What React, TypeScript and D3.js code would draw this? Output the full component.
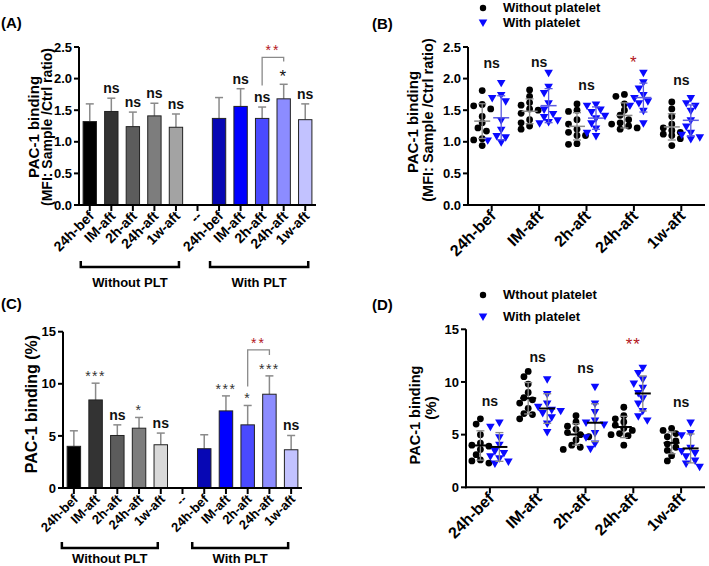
import React from 'react';
import * as d3 from 'd3';

const FONT = '"Liberation Sans", Arial, Helvetica, sans-serif';

// ---------- Bar panels (A, C) ----------
const barCategories = ['24h-bef', 'IM-aft', '2h-aft', '24h-aft', '1w-aft', '--', '24h-bef', 'IM-aft', '2h-aft', '24h-aft', '1w-aft'];

const aMeans = [1.32, 1.48, 1.24, 1.41, 1.23, null, 1.37, 1.56, 1.37, 1.68, 1.35];
const aErrTop = [1.60, 1.69, 1.47, 1.61, 1.44, null, 1.70, 1.84, 1.55, 1.91, 1.60];
const aSig = ['', 'ns', 'ns', 'ns', 'ns', '', '', 'ns', 'ns', '*', 'ns'];
const aTicks = [0, 0.5, 1, 1.5, 2, 2.5];
const aBracket = { from: 8, to: 9, level: 2.335, leftEnd: 1.89, rightEnd: 2.27, label: '**' };

const cMeans = [4.0, 8.45, 5.04, 5.74, 4.15, null, 3.77, 7.40, 6.06, 9.0, 3.67];
const cErrTop = [5.49, 10.06, 6.06, 6.77, 5.27, null, 5.11, 8.84, 7.92, 10.76, 5.04];
const cSig = ['', '***', 'ns', '*', 'ns', '', '', '***', '*', '***', 'ns'];
const cTicks = [0, 5, 10, 15];
const cBracket = { from: 8, to: 9, level: 13.25, leftEnd: 9.73, rightEnd: 12.77, label: '**' };

const groups = [
  { label: 'Without PLT', first: 0, last: 4 },
  { label: 'With PLT', first: 6, last: 10 },
];

// ---------- Scatter panels (B, D) ----------
const scatterCategories = ['24h-bef', 'IM-aft', '2h-aft', '24h-aft', '1w-aft'];

const bWithout = [
  [1.81, 1.59, 1.57, 1.52, 1.40, 1.30, 1.22, 1.17, 1.05, 1.03, 0.94],
  [1.82, 1.72, 1.62, 1.58, 1.52, 1.50, 1.45, 1.35, 1.30, 1.25, 1.20],
  [1.60, 1.50, 1.48, 1.35, 1.28, 1.20, 1.15, 1.10, 1.10, 0.97, 0.96],
  [1.75, 1.72, 1.60, 1.50, 1.42, 1.35, 1.30, 1.28, 1.25, 1.22, 1.20],
  [1.63, 1.52, 1.40, 1.28, 1.22, 1.18, 1.15, 1.12, 1.10, 1.05, 0.94],
];
const bWith = [
  [1.94, 1.75, 1.70, 1.65, 1.35, 1.20, 1.10, 1.08, 1.03, 1.00],
  [2.10, 1.88, 1.78, 1.62, 1.52, 1.45, 1.40, 1.35, 1.32, 1.30],
  [1.60, 1.58, 1.52, 1.48, 1.42, 1.38, 1.30, 1.22, 1.15, 1.10],
  [2.10, 1.95, 1.85, 1.75, 1.70, 1.65, 1.62, 1.58, 1.50, 1.30],
  [1.70, 1.62, 1.58, 1.50, 1.35, 1.25, 1.15, 1.12, 1.08, 1.05],
];
const bSig = ['ns', 'ns', 'ns', '*', 'ns'];
const bSigY = [2.16, 2.18, 1.82, 2.16, 1.90];

const dWithout = [
  [6.5, 6.0, 5.0, 4.2, 4.0, 3.9, 3.6, 3.1, 2.6, 2.5, 2.3],
  [11.0, 10.5, 9.8, 9.0, 8.5, 8.3, 8.0, 7.5, 7.0, 6.9, 6.5],
  [6.8, 6.2, 5.8, 5.5, 5.2, 5.0, 4.8, 4.5, 4.0, 3.8, 3.6],
  [7.6, 6.8, 6.5, 6.2, 5.9, 5.6, 5.4, 5.1, 5.0, 4.9, 4.0],
  [5.6, 5.4, 5.1, 4.8, 4.4, 4.1, 3.8, 3.5, 3.0, 2.5],
];
const dWith = [
  [6.2, 5.8, 4.8, 4.1, 3.5, 3.3, 3.0, 2.8, 2.5, 2.3],
  [10.3, 8.9, 8.0, 7.7, 7.4, 7.3, 7.1, 6.7, 6.1, 5.3],
  [9.6, 8.0, 7.2, 6.4, 6.2, 6.0, 5.2, 4.8, 4.2, 3.7],
  [11.4, 10.9, 10.3, 9.9, 9.5, 9.0, 8.5, 8.0, 7.3, 6.8, 6.4],
  [6.2, 5.2, 5.0, 3.8, 3.5, 3.3, 3.0, 2.6, 2.3, 2.0],
];
const dSig = ['ns', 'ns', 'ns', '**', 'ns'];
const dSigY = [7.75, 11.93, 10.85, 13.04, 7.63];

// ---------- styles ----------
const colorsA = ['#000000', '#333333', '#5c5c5c', '#7d7d7d', '#a3a3a3', 'none', '#0707b4', '#0000ff', '#4a4aff', '#8c8cff', '#c2c2ff'];
const colorsC = ['#000000', '#333333', '#5c5c5c', '#7d7d7d', '#d9d9d9', 'none', '#0707b4', '#0000ff', '#4a4aff', '#8c8cff', '#c2c2ff'];
const RED = '#b3161c';
const GREY = '#8a8a8a';

function YAxis({ y, ticks, x0, fmt, fs }) {
  const [r0, r1] = y.range();
  return (
    <g>
      <line x1={x0} x2={x0} y1={r0 + 1} y2={r1} stroke="#000" strokeWidth={2} />
      {ticks.map((t) => (
        <g key={t}>
          <line x1={x0 - 5} x2={x0} y1={y(t)} y2={y(t)} stroke="#000" strokeWidth={2} />
          <text x={x0 - 7} y={y(t)} dy="0.36em" textAnchor="end" fontSize={fs} fontWeight="bold">{fmt(t)}</text>
        </g>
      ))}
    </g>
  );
}

function XAxis({ x, cats, y0, x0, x1, fs }) {
  return (
    <g>
      <line x1={x0 - 1} x2={x1} y1={y0} y2={y0} stroke="#000" strokeWidth={2} />
      {cats.map((c, i) => (
        <g key={i}>
          <line x1={x(i)} x2={x(i)} y1={y0} y2={y0 + 6} stroke="#000" strokeWidth={2} />
          <text transform={`translate(${x(i) + 5},${y0 + 12}) rotate(-45)`} textAnchor="end" fontSize={fs} fontWeight="bold">{c}</text>
        </g>
      ))}
    </g>
  );
}

function YTitle({ lines, xs, cys, fss }) {
  return (
    <g>
      {lines.map((l, i) => (
        <text key={i} transform={`translate(${xs[i]},${cys[i]}) rotate(-90)`} textAnchor="middle" fontSize={fss[i]} fontWeight="bold">{l}</text>
      ))}
    </g>
  );
}

function BarPanel(p) {
  const x = d3.scalePoint().domain(d3.range(barCategories.length)).range([p.x0, p.x1]).padding(0.5);
  const y = d3.scaleLinear().domain([0, p.max]).range([p.y0, p.y1]);
  const bw = x.step() * 0.62;
  const br = p.bracket;
  return (
    <g>
      {p.means.map((m, i) =>
        m == null ? null : (
          <g key={i}>
            <line x1={x(i)} x2={x(i)} y1={y(m)} y2={y(p.errTop[i])} stroke={GREY} strokeWidth={1.5} />
            <line x1={x(i) - 4} x2={x(i) + 4} y1={y(p.errTop[i])} y2={y(p.errTop[i])} stroke={GREY} strokeWidth={1.5} />
            <rect x={x(i) - bw / 2} y={y(m)} width={bw} height={y(0) - y(m)} fill={p.colors[i]} stroke="#222" strokeWidth={1} />
          </g>
        )
      )}
      {p.sig.map((s, i) => {
        if (!s) return null;
        const star = s.includes('*');
        return (
          <text key={i} x={x(i)} y={y(p.errTop[i]) + (star ? p.starDy : -5)} textAnchor="middle"
            fontSize={star ? p.starFs : p.nsFs} fontWeight={star ? 'normal' : 'bold'}
            fill={star ? p.starColor : '#111'} letterSpacing={star ? 1.5 : 0}>{s}</text>
        );
      })}
      <path d={`M${x(br.from)},${y(br.leftEnd)}V${y(br.level)}H${x(br.to)}V${y(br.rightEnd)}`} fill="none" stroke={GREY} strokeWidth={1.3} />
      <text x={(x(br.from) + x(br.to)) / 2} y={y(br.level) - 2} textAnchor="middle" fontSize={14} fill={RED} letterSpacing={2}>{br.label}</text>
      <YAxis y={y} ticks={p.ticks} x0={p.x0} fmt={p.fmt} fs={13} />
      <XAxis x={x} cats={barCategories} y0={p.y0} x0={p.x0} x1={p.x1} fs={p.xFs} />
      {groups.map((g) => {
        const a = x(g.first) + p.grpOff[0];
        const b = x(g.last) + p.grpOff[1];
        return (
          <g key={g.label}>
            <path d={`M${a},${p.grpY - 6}V${p.grpY}H${b}V${p.grpY - 6}`} fill="none" stroke="#000" strokeWidth={2.5} />
            <text x={(a + b) / 2} y={p.grpLabelY} textAnchor="middle" fontSize={13} fontWeight="bold">{g.label}</text>
          </g>
        );
      })}
    </g>
  );
}

function swarm(values, y, cx, r) {
  const pts = values.map((v) => ({ v, y: y(v) })).sort((a, b) => a.y - b.y);
  const placed = [];
  const offs = [0, -1, 1, -2, 2, -3, 3];
  for (const p of pts) {
    let done = false;
    for (const k of offs) {
      const px = cx + k * r * 1.25;
      if (placed.every((q) => (q.x - px) ** 2 + (q.y - p.y) ** 2 >= (2 * r * 0.92) ** 2)) {
        placed.push({ x: px, y: p.y });
        done = true;
        break;
      }
    }
    if (!done) placed.push({ x: cx, y: p.y });
  }
  return placed;
}

const triPath = d3.symbol(d3.symbolTriangle, 32)();

function ScatterPanel(p) {
  const x = d3.scalePoint().domain(d3.range(scatterCategories.length)).range([p.x0, p.x1]).padding(0.5);
  const y = d3.scaleLinear().domain([0, p.max]).range([p.y0, p.y1]);
  const off = 9.5;
  const stats = (vals, cx, meanColor, sdColor) => {
    const m = d3.mean(vals);
    const sd = d3.deviation(vals);
    return (
      <g>
        <line x1={cx} x2={cx} y1={y(m - sd)} y2={y(m + sd)} stroke={sdColor} strokeWidth={1.3} />
        <line x1={cx - 4} x2={cx + 4} y1={y(m - sd)} y2={y(m - sd)} stroke={sdColor} strokeWidth={1.3} />
        <line x1={cx - 4} x2={cx + 4} y1={y(m + sd)} y2={y(m + sd)} stroke={sdColor} strokeWidth={1.3} />
        <line x1={cx - 8} x2={cx + 8} y1={y(m)} y2={y(m)} stroke={meanColor} strokeWidth={p.meanW} />
      </g>
    );
  };
  return (
    <g>
      {scatterCategories.map((c, i) => {
        const cxA = x(i) - off;
        const cxB = x(i) + off;
        return (
          <g key={i}>
            {swarm(p.without[i], y, cxA, 3.4).map((pt, j) => (
              <circle key={j} cx={pt.x} cy={pt.y} r={3.4} fill="#000" />
            ))}
            {swarm(p.withP[i], y, cxB, 3.6).map((pt, j) => (
              <path key={j} d={triPath} transform={`translate(${pt.x},${pt.y}) rotate(180)`} fill="#0a0aff" />
            ))}
            {stats(p.without[i], cxA, p.meanColA, GREY)}
            {stats(p.withP[i], cxB, p.meanColB, p.sdColB)}
            {(() => {
              const s = p.sig[i];
              const star = s.includes('*');
              return (
                <text x={x(i)} y={y(p.sigY[i])} textAnchor="middle" fontSize={star ? 17 : 14}
                  fontWeight={star ? 'normal' : 'bold'} fill={star ? RED : '#111'} letterSpacing={star ? 1 : 0}>{s}</text>
              );
            })()}
          </g>
        );
      })}
      <YAxis y={y} ticks={p.ticks} x0={p.x0} fmt={p.fmt} fs={13} />
      <XAxis x={x} cats={scatterCategories} y0={p.y0} x0={p.x0} x1={p.x1} fs={p.xFs} />
      <circle cx={483} cy={p.legY[0] - 4} r={3.2} fill="#000" />
      <text x={503} y={p.legY[0]} fontSize={13} fontWeight="bold">{p.legend[0]}</text>
      <path d={triPath} transform={`translate(483,${p.legY[1] - 5}) rotate(180)`} fill="#0a0aff" />
      <text x={503} y={p.legY[1]} fontSize={13} fontWeight="bold">{p.legend[1]}</text>
    </g>
  );
}

export default function App() {
  const f1 = d3.format('.1f');
  const f0 = d3.format('d');
  return (
    <svg width={709} height={566} style={{ position: 'absolute', left: 0, top: 0, background: '#fff' }}
      fontFamily={FONT}>
      <rect width={709} height={566} fill="#fff" />
      {/* Panel A */}
      <text x={1} y={28} fontSize={15} fontWeight="bold">(A)</text>
      <YTitle lines={['PAC-1 binding', '(MFI: Sample /Ctrl ratio)']} xs={[39, 52]} cys={[127, 127]} fss={[15, 14]} />
      <BarPanel means={aMeans} errTop={aErrTop} sig={aSig} ticks={aTicks} max={2.5} fmt={f1}
        x0={79} x1={316} y0={205} y1={47} colors={colorsA} bracket={aBracket}
        starFs={17} starDy={-2} starColor="#111" nsFs={14} xFs={14}
        grpOff={[-9, 3]} grpY={267} grpLabelY={287} />

      {/* Panel B */}
      <text x={372} y={29} fontSize={15} fontWeight="bold">(B)</text>
      <YTitle lines={['PAC-1 binding', '(MFI: Sample /Ctrl ratio)']} xs={[418, 433]} cys={[122, 120]} fss={[15, 14.5]} />
      <ScatterPanel without={bWithout} withP={bWith} sig={bSig} sigY={bSigY} ticks={aTicks} max={2.5} fmt={f1}
        x0={468} x1={705} y0={205} y1={47} xFs={16} meanW={1.5} meanColA={GREY} meanColB="#5a5ae0" sdColB="#5a5ae0"
        legend={['Without platelet', 'With platelet']} legY={[12, 27]} />

      {/* Panel C */}
      <text x={1} y={309} fontSize={15} fontWeight="bold">(C)</text>
      <YTitle lines={['PAC-1 binding (%)']} xs={[37]} cys={[404]} fss={[16]} />
      <BarPanel means={cMeans} errTop={cErrTop} sig={cSig} ticks={cTicks} max={15} fmt={f0}
        x0={63} x1={302} y0={488} y1={331.7} colors={colorsC} bracket={cBracket}
        starFs={14} starDy={-2} starColor="#333" nsFs={14} xFs={13}
        grpOff={[-12, -3]} grpY={548} grpLabelY={563} />

      {/* Panel D */}
      <text x={372} y={310} fontSize={15} fontWeight="bold">(D)</text>
      <YTitle lines={['PAC-1 binding', '(%)']} xs={[420, 436]} cys={[415, 408]} fss={[14.5, 15]} />
      <ScatterPanel without={dWithout} withP={dWith} sig={dSig} sigY={dSigY} ticks={cTicks} max={15} fmt={f0}
        x0={466} x1={705} y0={487.3} y1={329.3} xFs={16} meanW={2} meanColA="#000" meanColB="#000" sdColB={GREY}
        legend={['Wthout platelet', 'With platelet']} legY={[299, 321]} />
    </svg>
  );
}
